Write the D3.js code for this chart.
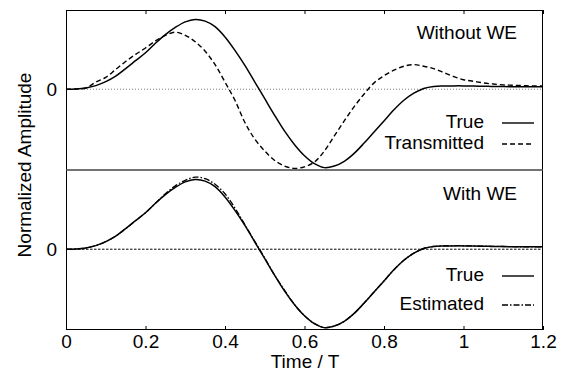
<!DOCTYPE html>
<html>
<head>
<meta charset="utf-8">
<script src="https://cdn.jsdelivr.net/npm/d3@7"></script>
<style>
  body { margin: 0; background: #fff; }
  text { font-family: "Liberation Sans", Arial, Helvetica, sans-serif; font-size: 19px; fill: #000; }
</style>
</head>
<body>
<svg id="chart" width="567" height="373"></svg>
<script>
// time axis (t / T)
const time = [0, 0.025, 0.05, 0.075, 0.1, 0.125, 0.15, 0.175, 0.2, 0.225, 0.25, 0.275, 0.3, 0.325, 0.35, 0.375,
  0.4, 0.425, 0.45, 0.475, 0.5, 0.525, 0.55, 0.575, 0.6, 0.625, 0.65, 0.675, 0.7, 0.725, 0.75, 0.775,
  0.8, 0.825, 0.85, 0.875, 0.9, 0.925, 0.95, 0.975, 1.0, 1.025, 1.05, 1.075, 1.1, 1.125, 1.15, 1.175, 1.2];

const trueSig = [0, 0.003, 0.015, 0.045, 0.095, 0.165, 0.26, 0.36, 0.46, 0.58, 0.69, 0.78, 0.85, 0.88, 0.86, 0.79,
  0.66, 0.49, 0.30, 0.09, -0.12, -0.33, -0.53, -0.70, -0.84, -0.94, -0.99, -0.97, -0.91, -0.81, -0.68, -0.54,
  -0.40, -0.26, -0.14, -0.05, 0.01, 0.035, 0.04, 0.042, 0.042, 0.04, 0.038, 0.035, 0.033, 0.032, 0.03, 0.03, 0.03];

const transmitted = [0, 0.003, 0.015, 0.09, 0.15, 0.25, 0.35, 0.44, 0.52, 0.61, 0.68, 0.72, 0.68, 0.60, 0.48, 0.31,
  0.09, -0.14, -0.42, -0.63, -0.78, -0.90, -0.97, -1.0, -0.98, -0.92, -0.78, -0.59, -0.40, -0.22, -0.06, 0.08,
  0.17, 0.24, 0.29, 0.31, 0.29, 0.26, 0.21, 0.16, 0.12, 0.10, 0.08, 0.065, 0.055, 0.05, 0.045, 0.04, 0.04];

const estimated = [0, 0.003, 0.015, 0.045, 0.095, 0.165, 0.26, 0.36, 0.46, 0.58, 0.70, 0.80, 0.87, 0.91, 0.89, 0.82,
  0.70, 0.52, 0.31, 0.10, -0.11, -0.33, -0.52, -0.70, -0.84, -0.94, -0.99, -0.97, -0.91, -0.81, -0.68, -0.54,
  -0.40, -0.26, -0.14, -0.05, 0.01, 0.035, 0.042, 0.045, 0.045, 0.042, 0.04, 0.036, 0.034, 0.032, 0.03, 0.03, 0.03];

const xTicks = [0, 0.2, 0.4, 0.6, 0.8, 1, 1.2];
const xTickLabels = ["0", "0.2", "0.4", "0.6", "0.8", "1", "1.2"];

const svg = d3.select("#chart");
const pLeft = 66, pRight = 543, pTop = 10, pMid = 170, pBottom = 330;

const x = d3.scaleLinear().domain([0, 1.2]).range([pLeft, pRight]);
const yTop = d3.scaleLinear().domain([-1.02, 1.0]).range([pMid, pTop]);
const yBot = d3.scaleLinear().domain([-1.02, 1.0]).range([pBottom, pMid]);

// zero lines
svg.append("line").attr("x1", pLeft).attr("x2", pRight)
  .attr("y1", yTop(0)).attr("y2", yTop(0))
  .attr("stroke", "#808080").attr("stroke-width", 1).attr("stroke-dasharray", "1,2");
svg.append("line").attr("x1", pLeft).attr("x2", pRight)
  .attr("y1", yBot(0)).attr("y2", yBot(0))
  .attr("stroke", "#000").attr("stroke-width", 1).attr("stroke-dasharray", "2.5,1.5");

function curve(yScale, vals) {
  return d3.line()
    .x((d, i) => x(time[i]))
    .y(d => yScale(d))
    .curve(d3.curveCatmullRom.alpha(0.5))(vals);
}

// top panel: without WE
svg.append("path").attr("d", curve(yTop, transmitted))
  .attr("fill", "none").attr("stroke", "#000").attr("stroke-width", 1.4).attr("stroke-dasharray", "5,3");
svg.append("path").attr("d", curve(yTop, trueSig))
  .attr("fill", "none").attr("stroke", "#000").attr("stroke-width", 1.5);

// bottom panel: with WE
svg.append("path").attr("d", curve(yBot, estimated))
  .attr("fill", "none").attr("stroke", "#000").attr("stroke-width", 1.3).attr("stroke-dasharray", "6,2,1.5,2");
svg.append("path").attr("d", curve(yBot, trueSig))
  .attr("fill", "none").attr("stroke", "#000").attr("stroke-width", 1.5);

// ticks (inward)
svg.append("g").attr("transform", `translate(0,${pBottom})`)
  .call(d3.axisBottom(x).tickValues(xTicks).tickSize(-4).tickSizeOuter(0).tickFormat((d, i) => xTickLabels[i]))
  .call(g => g.select(".domain").remove())
  .call(g => g.selectAll("text").attr("y", 18).attr("dy", 0).style("font-size", "19px")
    .style("font-family", "'Liberation Sans', Arial, sans-serif"));
svg.append("g").attr("transform", `translate(0,${pTop})`)
  .call(d3.axisTop(x).tickValues(xTicks).tickSize(-4).tickSizeOuter(0).tickFormat(""))
  .call(g => g.select(".domain").remove());

// frames
svg.append("rect").attr("x", pLeft + 0.5).attr("y", pTop + 0.5)
  .attr("width", pRight - pLeft - 1).attr("height", pBottom - pTop - 1)
  .attr("fill", "none").attr("stroke", "#000").attr("stroke-width", 1);
svg.append("line").attr("x1", pLeft).attr("x2", pRight).attr("y1", pMid).attr("y2", pMid)
  .attr("stroke", "#444").attr("stroke-width", 1.5);

// y tick labels
svg.append("text").attr("x", 57).attr("y", yTop(0)).attr("dy", "0.36em").attr("text-anchor", "end").text("0");
svg.append("text").attr("x", 57).attr("y", yBot(0)).attr("dy", "0.36em").attr("text-anchor", "end").text("0");

// axis titles
svg.append("text").attr("x", 305).attr("y", 368).attr("text-anchor", "middle").text("Time / T");
svg.append("text").attr("transform", "translate(31,165) rotate(-90)").attr("text-anchor", "middle")
  .text("Normalized Amplitude");

// panel titles
svg.append("text").attr("x", 517).attr("y", 39).attr("text-anchor", "end").text("Without WE");
svg.append("text").attr("x", 517).attr("y", 200).attr("text-anchor", "end").text("With WE");

// legends
const legends = [
  { label: "True", y: 128, dash: null },
  { label: "Transmitted", y: 149, dash: "5,3" },
  { label: "True", y: 281, dash: null },
  { label: "Estimated", y: 310, dash: "6,2,1.5,2" }
];
legends.forEach(l => {
  svg.append("text").attr("x", 484).attr("y", l.y).attr("text-anchor", "end").text(l.label);
  svg.append("line").attr("x1", 502).attr("x2", 534).attr("y1", l.y - 5).attr("y2", l.y - 5)
    .attr("stroke", "#000").attr("stroke-width", 1.4)
    .attr("stroke-dasharray", l.dash);
});
</script>
</body>
</html>
